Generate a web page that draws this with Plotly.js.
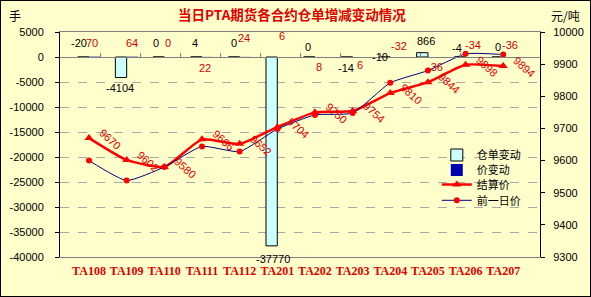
<!DOCTYPE html>
<html><head><meta charset="utf-8">
<script src="https://cdn.plot.ly/plotly-3.0.1.min.js"></script>
<style>html,body{margin:0;padding:0;background:#FFFFCC;} #chart{width:589px;height:295px;border:1px solid #000;}</style>
</head><body><div id="chart"></div>
<script>
const categories = ['TA108','TA109','TA110','TA111','TA112','TA201','TA202','TA203','TA204','TA205','TA206','TA207'];
const warrantChange = [-20,-4104,0,4,0,-37770,0,-14,-10,866,-4,0];
const priceChange = [70,64,0,22,24,6,8,6,-32,-36,-34,-36];
const settlePrice = [9670,9602,9580,9666,9652,9704,9750,9754,9810,9844,9898,9894];
const prevPrice = [9600,9538,9580,9644,9628,9698,9742,9748,9842,9880,9932,9930];
const leftTicks = [5000,0,-5000,-10000,-15000,-20000,-25000,-30000,-35000,-40000];
const leftTickText = ['5000','0','-5000','-10000','-15000','-20000','-25000','-30000','-35000','-40000'];
const rightTicks = [10000,9900,9800,9700,9600,9500,9400,9300];
const rightTickText = ['10000','9900','9800','9700','9600','9500','9400','9300'];
const seriesNames = ['仓单变动','价变动','结算价','前一日价'];

// label placement (pixels)
const warrantShift = [[-10,14],[-7,-10],[-8,14],[-7,14],[-6,14],[-4,-13],[-7,10],[-7,-11],[-10,0],[-2,12],[-9,9],[-5,10]];
const priceShift = [[3,14],[5,14],[4,14],[3,-11],[4,19],[5,21],[4,-10],[7,-8],[9,11],[7,-10],[7,12],[7,12]];

const yMin = -40000, yMax = 5000;
const fontF = 'Liberation Sans, Arial, Noto Sans CJK SC, sans-serif';
const cjk = 'Noto Sans CJK SC, sans-serif';

const traces = [
  {type:'bar', name:seriesNames[0], x:categories, y:warrantChange, xaxis:'x', yaxis:'y',
   marker:{color:'#CCFFFF', line:{color:'#000', width:1}}, legend:'legend'},
  {type:'bar', name:seriesNames[1], x:categories, y:priceChange, xaxis:'x', yaxis:'y',
   marker:{color:'#0000B0', line:{color:'#000', width:0}}, legend:'legend2'},
  {type:'scatter', mode:'lines+markers', name:seriesNames[2], x:categories, y:settlePrice, xaxis:'x', yaxis:'y2',
   line:{color:'#FF0000', width:2.5, shape:'spline', smoothing:0.5}, marker:{symbol:'triangle-up', size:8, color:'#FF0000'}, legend:'legend3'},
  {type:'scatter', mode:'lines+markers', name:seriesNames[3], x:categories, y:prevPrice, xaxis:'x', yaxis:'y2',
   line:{color:'#000080', width:1, shape:'spline', smoothing:0.5}, marker:{symbol:'circle', size:6, color:'#FF0000'}, legend:'legend4'},
  {type:'scatter', x:[], y:[], xaxis:'x2', yaxis:'y', showlegend:false, hoverinfo:'skip'}
];

const annotations = [];
categories.forEach((c,i)=>{
  annotations.push({x:c, y:warrantChange[i], xref:'x', yref:'y', text:String(warrantChange[i]), showarrow:false,
    xshift:warrantShift[i][0], yshift:warrantShift[i][1], font:{family:fontF, size:11, color:'#000'}});
  annotations.push({x:c, y:priceChange[i], xref:'x', yref:'y', text:String(priceChange[i]), showarrow:false,
    xshift:priceShift[i][0], yshift:priceShift[i][1], font:{family:fontF, size:11, color:'#CC0000'}});
  annotations.push({x:c, y:settlePrice[i], xref:'x', yref:'y2', text:String(settlePrice[i]), showarrow:false,
    xshift:21, yshift:-1, textangle:42, font:{family:fontF, size:11, color:'#E00000'}});
});
annotations.push({xref:'paper', yref:'paper', x:-0.094, y:1.075, xanchor:'center', yanchor:'middle', text:'手', showarrow:false, font:{family:cjk, size:12, color:'#000'}});
annotations.push({xref:'paper', yref:'paper', x:1.054, y:1.075, xanchor:'center', yanchor:'middle', text:'元/吨', showarrow:false, font:{family:cjk, size:12, color:'#000'}});

const legendBase = {xanchor:'left', yanchor:'middle', bgcolor:'rgba(0,0,0,0)', borderwidth:0, font:{family:cjk, size:11, color:'#000'}};
const lx = 0.785;
const layout = {
  width:589, height:295,
  margin:{l:59, r:50, t:31, b:39},
  paper_bgcolor:'#FFFFCC', plot_bgcolor:'#FFFFCC',
  font:{family:fontF, size:11, color:'#000'},
  showlegend:true,
  title:{text:'当日PTA期货各合约仓单增减变动情况', xref:'container', x:0.494, y:0.95, yanchor:'middle', xanchor:'center',
    font:{family:cjk, size:13.5, color:'#E00000', weight:'bold'}},
  barmode:'group', bargap:0.4, bargroupgap:0,
  xaxis:{type:'category', showline:true, linecolor:'#808080', mirror:true, ticks:'', showgrid:false, zeroline:false,
    tickfont:{family:'Liberation Serif, serif', size:12, color:'#E00000', weight:'bold'}, ticklabelstandoff:3, fixedrange:true},
  xaxis2:{type:'linear', overlaying:'x', anchor:'free', position:(0 - yMin)/(yMax - yMin), side:'top',
    range:[-0.5, categories.length - 0.5], tickmode:'array', tickvals:categories.slice(1).map((_,i)=>i+0.5),
    showticklabels:false, ticks:'outside', ticklen:4, tickcolor:'#808080', showline:true, linecolor:'#808080',
    showgrid:false, zeroline:false},
  yaxis:{range:[yMin, yMax], tickmode:'array', tickvals:leftTicks, ticktext:leftTickText, showline:true, linecolor:'#000',
    ticks:'outside', ticklen:4, tickcolor:'#000', showgrid:true, gridcolor:'#A8A8A8', griddash:'dash', zeroline:false,
    tickfont:{size:11}, ticklabelstandoff:9},
  yaxis2:{range:[9300, 10000], overlaying:'y', side:'right', tickmode:'array', tickvals:rightTicks, ticktext:rightTickText,
    showline:true, linecolor:'#000', ticks:'outside', ticklen:4, tickcolor:'#000', showgrid:false, zeroline:false,
    tickfont:{size:11}, ticklabelstandoff:6},
  legend:Object.assign({}, legendBase, {x:lx, y:0.4533}),
  legend2:Object.assign({}, legendBase, {x:lx, y:0.3867}),
  legend3:Object.assign({}, legendBase, {x:lx, y:0.322}),
  legend4:Object.assign({}, legendBase, {x:lx, y:0.252}),
  annotations:annotations,
  hovermode:false
};
Plotly.newPlot('chart', traces, layout, {displayModeBar:false, staticPlot:true});
</script></body></html>
